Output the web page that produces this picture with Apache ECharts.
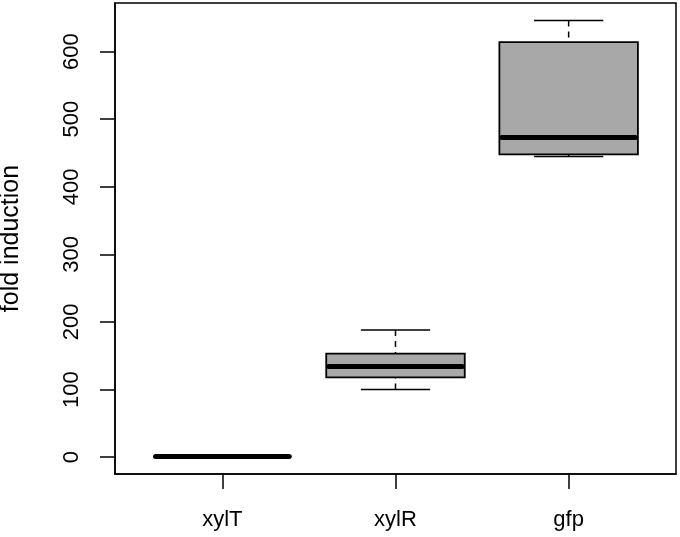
<!DOCTYPE html>
<html>
<head>
<meta charset="utf-8">
<script src="https://cdn.jsdelivr.net/npm/echarts@6/dist/echarts.min.js"></script>
<style>
  html, body { margin: 0; padding: 0; background: #fff; }
  #chart { width: 680px; height: 537px; }
</style>
</head>
<body>
<div id="chart"></div>
<script>
// boxplot stats per gene
var categories = ['xylT', 'xylR', 'gfp']
var whiskerLow = [1, 100, 445]
var q1 = [1, 118, 448]
var median = [1, 134, 473]
var q3 = [1, 153, 614]
var whiskerHigh = [1, 188, 646]
var yTicks = [0, 100, 200, 300, 400, 500, 600]

var boxData = categories.map(function (c, i) {
	return [i + 1, whiskerLow[i], q1[i], median[i], q3[i], whiskerHigh[i]]
})

var font = 'Liberation Sans, Arial, Helvetica, sans-serif'

function renderBox(params, api) {
	var x = api.value(0)
	var lo = api.coord([x, api.value(1)])
	var b1 = api.coord([x, api.value(2)])
	var md = api.coord([x, api.value(3)])
	var b3 = api.coord([x, api.value(4)])
	var hi = api.coord([x, api.value(5)])
	var halfBox = api.size([0.4, 0])[0]
	var halfCap = api.size([0.2, 0])[0]
	var cx = lo[0]
	var dash = { stroke: '#000', lineWidth: 1.5, lineDash: [6, 5] }
	var solid = { stroke: '#000', lineWidth: 1.5 }
	return {
		type: 'group',
		children: [
			{ type: 'rect', shape: { x: cx - halfBox, y: b3[1], width: halfBox * 2, height: b1[1] - b3[1] },
				style: { fill: '#A8A8A8', stroke: '#000', lineWidth: 1.8 } },
			{ type: 'line', shape: { x1: cx, y1: hi[1], x2: cx, y2: b3[1] }, style: dash },
			{ type: 'line', shape: { x1: cx, y1: lo[1], x2: cx, y2: b1[1] }, style: dash },
			{ type: 'line', shape: { x1: cx - halfCap, y1: hi[1], x2: cx + halfCap, y2: hi[1] }, style: solid },
			{ type: 'line', shape: { x1: cx - halfCap, y1: lo[1], x2: cx + halfCap, y2: lo[1] }, style: solid },
			// median: thick, round ends kept inside the box
			{ type: 'line', shape: { x1: cx - halfBox + 2.5, y1: md[1], x2: cx + halfBox - 2.5, y2: md[1] },
				style: { stroke: '#000', lineWidth: 5, lineCap: 'round' } }
		]
	}
}

var chart = echarts.init(document.getElementById('chart'))
chart.setOption({
	backgroundColor: '#fff',
	animation: false,
	grid: {
		left: 115,
		right: 4,
		top: 3,
		bottom: 63,
		outerBoundsMode: 'none',
		show: true,
		borderColor: '#000',
		borderWidth: 1.5,
		backgroundColor: 'transparent'
	},
	xAxis: {
		type: 'value',
		min: 0.38,
		max: 3.62,
		axisLine: { onZero: false, lineStyle: { color: '#000', width: 1.5 } },
		axisTick: { length: 15, customValues: [1, 2, 3], lineStyle: { color: '#000', width: 1.5 } },
		axisLabel: {
			customValues: [1, 2, 3],
			formatter: function (v) { return categories[Math.round(v) - 1] },
			color: '#000',
			fontFamily: font,
			fontSize: 22,
			margin: 35
		},
		splitLine: { show: false }
	},
	yAxis: {
		type: 'value',
		min: -25,
		max: 672,
		name: 'fold induction',
		nameLocation: 'middle',
		nameRotate: 90,
		nameGap: 91,
		nameTextStyle: { color: '#000', fontFamily: font, fontSize: 25 },
		axisLine: { show: true, onZero: false, lineStyle: { color: '#000', width: 1.5 } },
		axisTick: { show: true, length: 15, customValues: yTicks, lineStyle: { color: '#000', width: 1.5 } },
		axisLabel: {
			customValues: yTicks,
			rotate: 90,
			color: '#000',
			fontFamily: font,
			fontSize: 22,
			margin: 32
		},
		splitLine: { show: false }
	},
	series: [{
		type: 'custom',
		renderItem: renderBox,
		encode: { x: 0, y: [1, 2, 3, 4, 5] },
		data: boxData
	}]
})
</script>
</body>
</html>
